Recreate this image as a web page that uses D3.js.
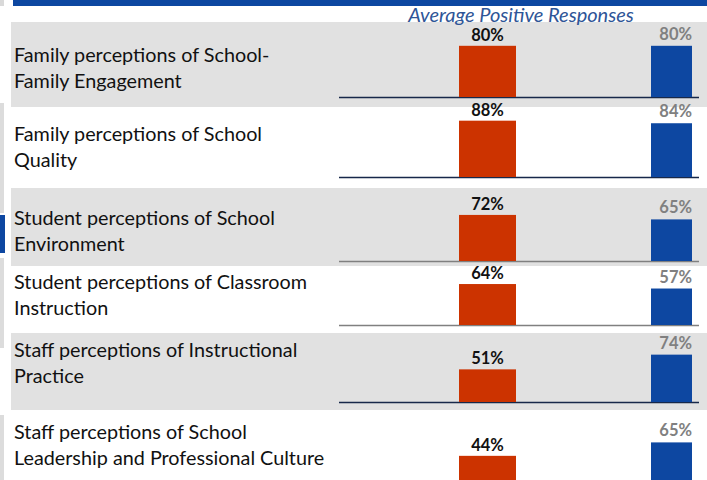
<!DOCTYPE html>
<html>
<head>
<meta charset="utf-8">
<script src="https://cdn.jsdelivr.net/npm/d3@7"></script>
<style>
  html, body { margin: 0; padding: 0; background: #fff; }
  svg { display: block; }
</style>
</head>
<body>
<div id="chart"></div>
<script>
// ---- Data ----
const categories = [
  ["Family perceptions of School-", "Family Engagement"],
  ["Family perceptions of School", "Quality"],
  ["Student perceptions of School", "Environment"],
  ["Student perceptions of Classroom", "Instruction"],
  ["Staff perceptions of Instructional", "Practice"],
  ["Staff perceptions of School", "Leadership and Professional Culture"]
];
const seriesNames = ["School", "Comparison"];
const schoolValues = [80, 88, 72, 64, 51, 44];
const comparisonValues = [80, 84, 65, 57, 74, 65];
const subtitle = "Average Positive Responses";

// ---- Layout ----
const W = 707, H = 480;
const rowBaselines = [97, 177, 261, 325, 402, 484];
const rowBands = [[22, 107], null, [188, 266], null, [333, 410], null];
const axisColors = ["#17284a", "#17284a", "#808080", "#808080", "#17284a", "#17284a"];
const labelFirstLine = [55, 134, 218, 282, 350, 432];
const lineGap = 26.5;

const svg = d3.select("#chart").append("svg")
  .attr("width", W).attr("height", H);

// left edge decorations (parts of neighbouring slide elements)
const edge = [[0, 6, "#d9d9d9"], [103, 213, "#dcdcdc"], [215, 253, "#0d47a1"], [258, 348, "#dcdcdc"], [415, 480, "#dcdcdc"]];
svg.selectAll("rect.edge").data(edge).join("rect")
  .attr("class", "edge")
  .attr("x", 0).attr("width", d => d[2] === "#0d47a1" ? 5 : 4)
  .attr("y", d => d[0]).attr("height", d => d[1] - d[0])
  .attr("fill", d => d[2]);

// top title bar
svg.append("rect").attr("x", 13).attr("y", 0).attr("width", W - 13).attr("height", 6)
  .attr("fill", "#0d47a1");

// row background bands
svg.selectAll("rect.band").data(rowBands.filter(d => d)).join("rect")
  .attr("class", "band")
  .attr("x", 11).attr("width", W - 11)
  .attr("y", d => d[0]).attr("height", d => d[1] - d[0])
  .attr("fill", "#e1e1e1");

// subtitle
svg.append("text")
  .attr("x", 521).attr("y", 21.5)
  .attr("text-anchor", "middle")
  .attr("font-family", "Lato, 'Open Sans', sans-serif")
  .attr("font-style", "italic")
  .attr("font-size", 20)
  .attr("fill", "#2e5597")
  .text(subtitle);

// scales
const h = d3.scaleLinear().domain([0, 100]).range([0, 64]);
const xSeries = d3.scaleOrdinal().domain(seriesNames).range([[459, 57], [651, 41]]);
const colors = d3.scaleOrdinal().domain(seriesNames).range(["#cc3300", "#0d47a1"]);

const rows = categories.map((c, i) => ({
  i, label: c, base: rowBaselines[i],
  values: [
    { s: seriesNames[0], v: schoolValues[i] },
    { s: seriesNames[1], v: comparisonValues[i] }
  ]
}));

const g = svg.selectAll("g.row").data(rows).join("g").attr("class", "row");

// category labels
g.append("text")
  .attr("font-family", "Lato, 'Open Sans', sans-serif")
  .attr("font-size", 19.8)
  .attr("fill", "#111")
  .selectAll("tspan").data(d => d.label.map((t, k) => ({ t, k, y: labelFirstLine[d.i] })))
  .join("tspan")
  .attr("x", 14)
  .attr("y", d => d.y + d.k * lineGap)
  .attr("dy", "0.35em")
  .text(d => d.t);

// axis line
g.append("line")
  .attr("x1", 339).attr("x2", 699)
  .attr("y1", d => d.base + 0.5).attr("y2", d => d.base + 0.5)
  .attr("stroke", d => axisColors[d.i]).attr("stroke-width", 1.5);

// bars
g.selectAll("rect.bar").data(d => d.values.map(v => ({ ...v, base: d.base })))
  .join("rect").attr("class", "bar")
  .attr("x", d => xSeries(d.s)[0])
  .attr("width", d => xSeries(d.s)[1])
  .attr("y", d => d.base - h(d.v))
  .attr("height", d => h(d.v))
  .attr("fill", d => colors(d.s));

// value labels
g.selectAll("text.val").data(d => d.values.map(v => ({ ...v, base: d.base })))
  .join("text").attr("class", "val")
  .attr("font-family", "Lato, 'Open Sans', sans-serif")
  .attr("font-weight", "bold")
  .attr("font-size", 16.5)
  .attr("text-anchor", d => d.s === seriesNames[0] ? "middle" : "end")
  .attr("x", d => d.s === seriesNames[0] ? xSeries(d.s)[0] + xSeries(d.s)[1] / 2 : xSeries(d.s)[0] + xSeries(d.s)[1])
  .attr("y", d => d.base - h(d.v) - (d.s === seriesNames[0] ? 5 : 6))
  .attr("fill", d => d.s === seriesNames[0] ? "#111" : "#808080")
  .text(d => d.v + "%");
</script>
</body>
</html>
